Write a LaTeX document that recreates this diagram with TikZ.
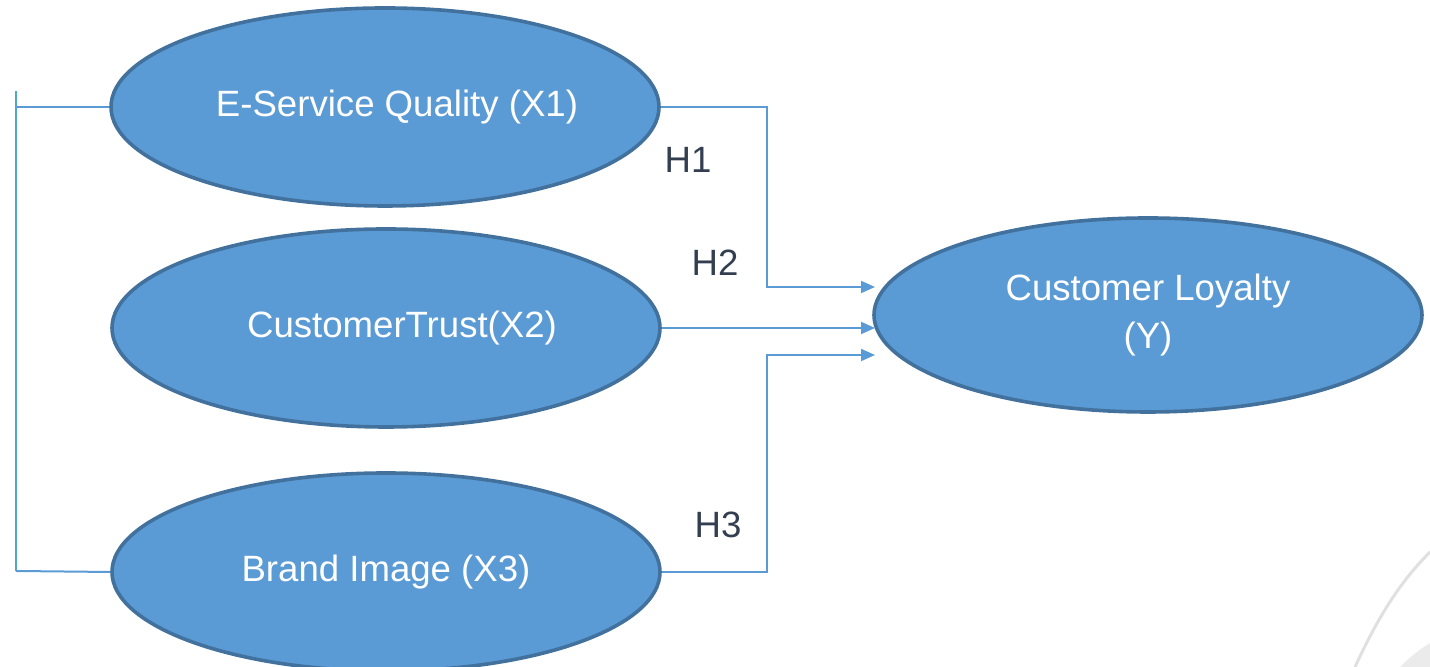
\documentclass[tikz,border=0pt]{standalone}
\usepackage{fontspec}
\setmainfont{Liberation Sans}
\usetikzlibrary{arrows.meta,positioning,shapes.geometric,calc}
\definecolor{fillblue}{HTML}{5B9BD5}
\definecolor{edgeblue}{HTML}{41719C}
\definecolor{barcyan}{HTML}{4BACC6}
\definecolor{labelgray}{HTML}{333F50}

\begin{document}
\begin{tikzpicture}[x=0.5pt,y=0.5pt,>={Triangle[length=7pt,width=6pt]},
  font=\fontsize{18.3}{24}\selectfont,
  construct/.style={ellipse,draw=edgeblue,line width=1.8pt,fill=fillblue,
    text=white,minimum width=274pt,minimum height=99pt,align=center,inner sep=0pt},
  link/.style={draw=fillblue,line width=1pt},
  arr/.style={link,->},
  hyp/.style={text=labelgray}]
  \useasboundingbox (0,0) rectangle (1430,667);

  % constructs
  \node[construct] (eq) at (385,560) {\hspace*{12pt}E-Service Quality (X1)};
  \node[construct] (trust) at (386,339) {\hspace*{16pt}CustomerTrust(X2)};
  \node[construct] (brand) at (386,95) {Brand Image (X3)};
  \node[construct,minimum height=97pt] (loyal) at (1148,352) {Customer Loyalty\\(Y)};

  % left bracket
  \coordinate (bartop) at (16,576);
  \coordinate (barbot) at (16,96);
  \draw[draw=barcyan,line width=1pt] (bartop) -- (barbot);
  \draw[link] (eq.west) -- (eq.west -| bartop);
  \draw[link] (barbot) -- (brand.west);

  % paths to customer loyalty
  \coordinate (jx) at (767,0);
  \coordinate (h1in) at (875,380);
  \coordinate (h2in) at (875,339);
  \coordinate (h3in) at (875,312);
  \draw[arr] (eq.east) -| (jx |- h1in) -- (h1in);
  \draw[arr] (trust.east) -- (h2in);
  \draw[arr] (brand.east) -| (jx |- h3in) -- (h3in);

  % hypothesis labels
  \node[hyp] (h1) at (688,507) {H1};
  \node[hyp] (h2) at (715,404) {H2};
  \node[hyp] (h3) at (718,142) {H3};

  % faint background swoosh
  \draw[black!12,line width=1.5pt] (1355,0) .. controls (1378,50) and (1400,85) .. (1430,115);
  \fill[black!8] (1400,0) .. controls (1410,10) and (1420,18) .. (1430,24) -- (1430,0) -- cycle;
\end{tikzpicture}
\end{document}
